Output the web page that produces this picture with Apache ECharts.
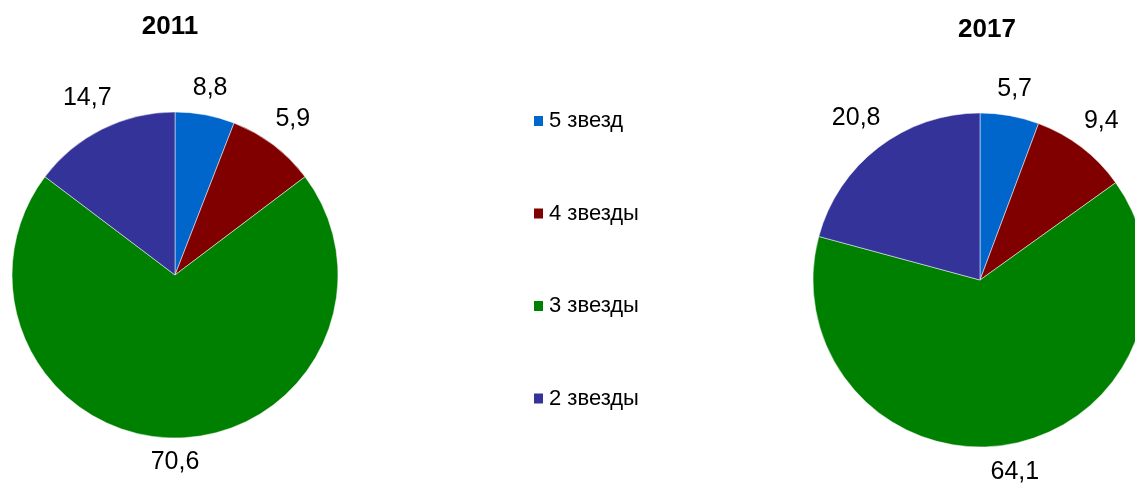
<!DOCTYPE html>
<html>
<head>
<meta charset="utf-8">
<script src="https://cdn.jsdelivr.net/npm/echarts@6/dist/echarts.min.js"></script>
<style>
  html, body { margin: 0; padding: 0; background: #fff; }
  #main { width: 1135px; height: 492px; }
</style>
</head>
<body>
<div id="main"></div>
<script>
// категории (легенда)
var categories = ['5 звезд', '4 звезды', '3 звезды', '2 звезды'];
var colors = ['#0066CC', '#800000', '#008000', '#333399'];

// 2011: размеры секторов и подписи как на рисунке
var values2011 = [5.9, 8.8, 70.6, 14.7];
var labels2011 = ['8,8', '5,9', '70,6', '14,7'];

// 2017
var values2017 = [5.7, 9.4, 64.1, 20.8];
var labels2017 = ['5,7', '9,4', '64,1', '20,8'];

var FONT = 'Liberation Sans, Arial, sans-serif';

// геометрия кругов
var pies = [
  { values: values2011, labels: labels2011, center: [175, 275], radius: 163 },
  { values: values2017, labels: labels2017, center: [980, 280], radius: 167 }
];

var chart = echarts.init(document.getElementById('main'), null, { renderer: 'canvas' });

// подпись ставим снаружи сектора, краем к окружности (как в Excel)
function placeLabel(params) {
  var p = pies[params.seriesIndex];
  var total = p.values.reduce(function (a, b) { return a + b; }, 0);
  var before = 0;
  for (var i = 0; i < params.dataIndex; i++) before += p.values[i];
  var mid = (before + p.values[params.dataIndex] / 2) / total * Math.PI * 2;
  var ux = Math.sin(mid), uy = -Math.cos(mid);
  var w = params.labelRect.width, h = params.labelRect.height;
  var d = p.radius + 12 + Math.abs(ux) * w / 2 + Math.abs(uy) * h / 2;
  return {
    x: p.center[0] + ux * d,
    y: p.center[1] + uy * d,
    align: 'center',
    verticalAlign: 'middle'
  };
}

function pieSeries(p) {
  return {
    type: 'pie',
    center: p.center,
    radius: p.radius,
    startAngle: 90,
    clockwise: true,
    avoidLabelOverlap: false,
    silent: true,
    itemStyle: { borderColor: '#fff', borderWidth: 0.5 },
    label: {
      show: true,
      position: 'outside',
      fontFamily: FONT,
      fontSize: 25,
      color: '#000',
      formatter: function (prm) { return p.labels[prm.dataIndex]; }
    },
    labelLine: { show: false, length: 10, length2: 0 },
    labelLayout: placeLabel,
    data: p.values.map(function (v, i) {
      return { name: categories[i], value: v };
    })
  };
}

var option = {
  animation: false,
  color: colors,
  title: [
    { text: '2011', left: 170, top: 14, textAlign: 'center', padding: 0,
      textStyle: { fontFamily: FONT, fontSize: 26, fontWeight: 'bold', color: '#000' } },
    { text: '2017', left: 987, top: 17, textAlign: 'center', padding: 0,
      textStyle: { fontFamily: FONT, fontSize: 26, fontWeight: 'bold', color: '#000' } }
  ],
  legend: {
    orient: 'vertical',
    left: 532,
    top: 110,
    padding: 0,
    itemWidth: 11,
    itemHeight: 12,
    itemGap: 70.5,
    icon: 'rect',
    textStyle: { fontFamily: FONT, fontSize: 22, lineHeight: 22, color: '#000' },
    data: categories
  },
  series: [pieSeries(pies[0]), pieSeries(pies[1])]
};

chart.setOption(option);
</script>
</body>
</html>
